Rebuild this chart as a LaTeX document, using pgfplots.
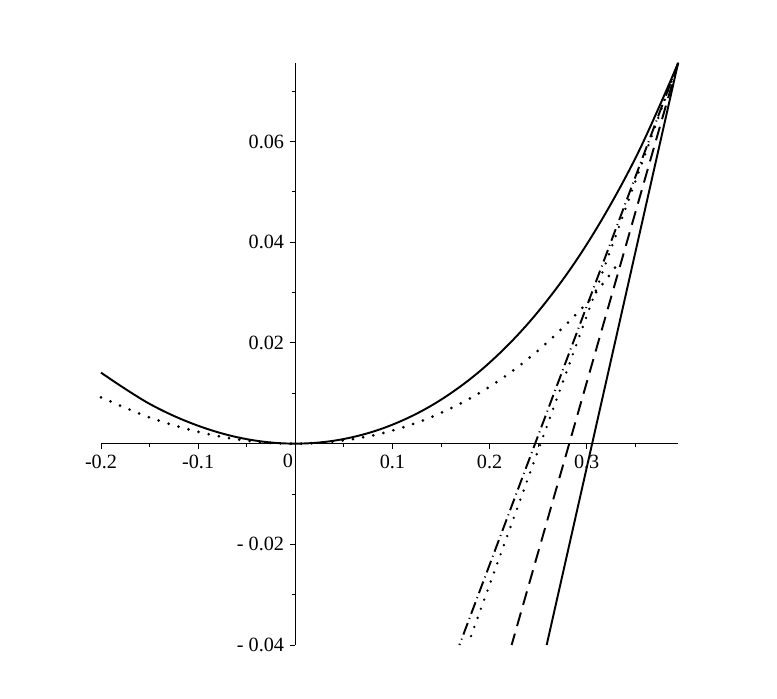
\documentclass[border=0pt]{standalone}
\usepackage{fontspec}
\setmainfont{Liberation Serif}
\usepackage{pgfplots}
\pgfplotsset{compat=1.18}
\begin{document}
\begin{tikzpicture}
\path[use as bounding box] (-2.02cm,-1.06cm) rectangle (13.52cm,12.90cm);
\begin{axis}[
  at={(0,0)}, anchor=south west,
  scale only axis, width=11.54cm, height=11.64cm,
  xmin=-0.2, xmax=0.394, ymin=-0.04, ymax=0.0756,
  axis lines=middle, axis line style={-, line width=0.6pt},
  scaled ticks=false,
  xtick={-0.2,-0.1,0.1,0.2,0.3},
  xticklabels={-0.2,-0.1,0.1,0.2,0.3},
  ytick={-0.04,-0.02,0.02,0.04,0.06},
  yticklabels={- 0.04,- 0.02,0.02,0.04,0.06},
  minor xtick={-0.15,-0.05,0.05,0.15,0.25,0.35},
  minor ytick={-0.03,-0.01,0.01,0.03,0.05,0.07},
  tick align=outside,
  major tick length=0.1cm, minor tick length=0.06cm,
  tick style={black, line width=0.5pt},
  ticklabel style={font=\fontsize{11.5}{13}\selectfont},
  clip=false,
]
% curve 1 (solid)
\addplot[black, line width=1.1pt, smooth, tension=0.6] coordinates {
  (-0.2,0.0141)(-0.15,0.0079)(-0.1,0.00355)(-0.05,0.00089)(0,0)
  (0.05,0.00092)(0.1,0.00376)(0.15,0.00872)(0.2,0.01608)(0.25,0.02621)
  (0.3,0.03956)(0.35,0.05664)(0.394,0.07552)
};
% curve 2 (dotted)
\addplot[black, line width=1.7pt, line cap=round, dash pattern=on 0pt off 5.9pt, smooth, tension=0.6] coordinates {
  (-0.2,0.0092)(-0.15,0.0052)(-0.1,0.00235)(-0.05,0.0006)(0,0)
  (0.05,0.00063)(0.1,0.0026)(0.15,0.0061)(0.2,0.0113)(0.25,0.0185)
  (0.3,0.0279)(0.33,0.0352)
};
% lines through the end point
\addplot[black, line width=1.1pt] coordinates {(0.394,0.07552)(0.2588,-0.04)};
\addplot[black, line width=1.1pt, dash pattern=on 8pt off 4.5pt] coordinates {(0.394,0.07552)(0.2227,-0.04)};
\addplot[black, line width=1.1pt, dash pattern=on 7pt off 2.5pt on 0.6pt off 2.5pt] coordinates {(0.394,0.07552)(0.169,-0.04)};
\addplot[black, line width=1.5pt, line cap=round, dash pattern=on 0pt off 5.5pt] coordinates {(0.394,0.07552)(0.1776,-0.04)};
\node[anchor=north east, inner sep=0pt, font=\fontsize{11.5}{13}\selectfont] at (axis cs:0,0) [xshift=-0.04cm, yshift=-0.2cm] {0};
\end{axis}
\end{tikzpicture}
\end{document}
